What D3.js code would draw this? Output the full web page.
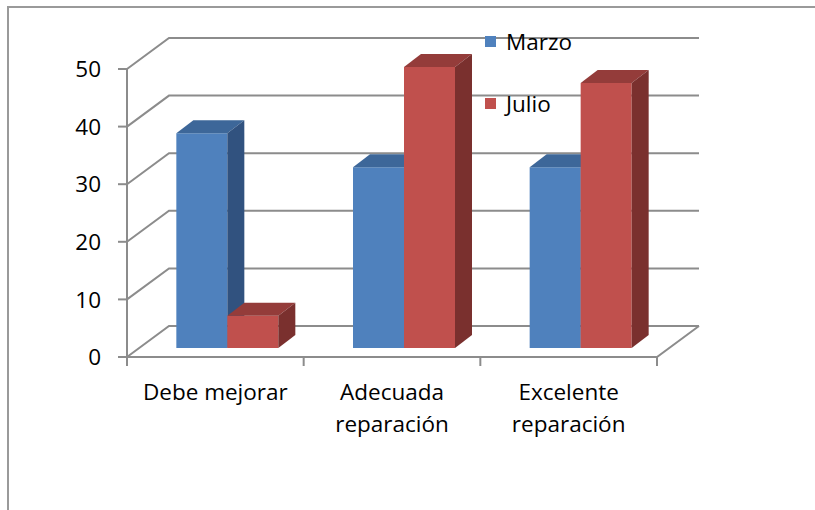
<!DOCTYPE html>
<meta charset="utf-8">
<script src="https://d3js.org/d3.v7.min.js"></script>
<style>
body {
  margin: 0;
  font-family: "Open Sans", Lato, sans-serif;
}
.grid line, .grid path {
  stroke: #8c8c8c;
  stroke-width: 2;
  fill: none;
}
text {
  font-size: 22.5px;
  fill: #000;
}
</style>
<body>
<script type="text/javascript">

// data
var categories = [["Debe mejorar"], ["Adecuada", "reparación"], ["Excelente", "reparación"]];
var catKeys = ["Debe mejorar", "Adecuada reparación", "Excelente reparación"];
var series = ["Marzo", "Julio"];
var marzo = [37.3, 31.4, 31.4];
var julio = [5.6, 48.8, 46];
var yTicks = [0, 10, 20, 30, 40, 50];

var colors = {
  Marzo: {front: "#4f81bd", top: "#3d6799", side: "#31527f"},
  Julio: {front: "#c0504d", top: "#943c3a", side: "#7a302e"}
};

var width = 815, height = 510;

// front plane of the 3d box
var x0 = 127, x1 = 657, yZero = 357, yTop = 69;
// depth of the box (back wall offset)
var depth = {dx: 42, dy: -31};
// bars sit a little inside the box
var barShift = {dx: 12, dy: -9};
var barDepth = {dx: 17, dy: -13};
var barWidth = 51;

var x = d3.scaleBand().domain(catKeys).range([x0, x1]);
var xs = d3.scaleBand().domain(series)
    .range([(x.bandwidth() - 2 * barWidth) / 2, (x.bandwidth() + 2 * barWidth) / 2]);
var y = d3.scaleLinear().domain([0, 50]).range([yZero, yTop]);

var svg = d3.select("body").append("svg")
    .attr("width", width)
    .attr("height", height);

// outer frame (only top and left edges are in view)
svg.append("rect")
    .attr("x", 8).attr("y", 7)
    .attr("width", 900).attr("height", 600)
    .attr("fill", "#fff")
    .attr("stroke", "#9a9a9a")
    .attr("stroke-width", 2);

var grid = svg.append("g").attr("class", "grid");

// back wall gridlines with the diagonal on the left wall
grid.selectAll(".gl")
    .data(yTicks)
    .enter().append("path")
    .attr("class", "gl")
    .attr("d", function(d) {
      return "M" + x0 + "," + y(d) +
        "L" + (x0 + depth.dx) + "," + (y(d) + depth.dy) +
        "L" + (x1 + depth.dx) + "," + (y(d) + depth.dy);
    });

// floor: front edge and right diagonal
grid.append("path")
    .attr("d", "M" + x0 + "," + yZero + "L" + x1 + "," + yZero +
      "L" + (x1 + depth.dx) + "," + (yZero + depth.dy));

// value axis
grid.append("line")
    .attr("x1", x0).attr("x2", x0)
    .attr("y1", y(50)).attr("y2", yZero);

grid.selectAll(".yt")
    .data(yTicks)
    .enter().append("line")
    .attr("x1", x0 - 9).attr("x2", x0)
    .attr("y1", function(d) { return y(d); })
    .attr("y2", function(d) { return y(d); });

// category ticks
var xEdges = catKeys.map(function(c) { return x(c); }).concat([x1]);
grid.selectAll(".xt")
    .data(xEdges)
    .enter().append("line")
    .attr("x1", function(d) { return d; })
    .attr("x2", function(d) { return d; })
    .attr("y1", yZero).attr("y2", yZero + 9);

svg.selectAll(".ylab")
    .data(yTicks)
    .enter().append("text")
    .attr("x", 101)
    .attr("y", function(d) { return y(d); })
    .attr("dy", "0.36em")
    .attr("text-anchor", "end")
    .text(function(d) { return d; });

// bars
var bars = [];
catKeys.forEach(function(c, i) {
  bars.push({cat: c, s: "Marzo", v: marzo[i]});
  bars.push({cat: c, s: "Julio", v: julio[i]});
});

function barPaths(d) {
  var left = x(d.cat) + xs(d.s) + barShift.dx;
  var right = left + barWidth;
  var base = yZero + barShift.dy;
  var top = base - (yZero - y(d.v));
  var bx = barDepth.dx, by = barDepth.dy;
  return {
    front: [[left, top], [right, top], [right, base], [left, base]],
    top: [[left, top], [left + bx, top + by], [right + bx, top + by], [right, top]],
    side: [[right, top], [right + bx, top + by], [right + bx, base + by], [right, base]]
  };
}

var poly = function(pts) { return "M" + pts.join("L") + "Z"; };

var bar = svg.selectAll(".bar")
    .data(bars)
    .enter().append("g")
    .attr("class", "bar");

["front", "top", "side"].forEach(function(face) {
  bar.append("path")
      .attr("d", function(d) { return poly(barPaths(d)[face]); })
      .attr("fill", function(d) { return colors[d.s][face]; });
});

// category labels
var lab = svg.selectAll(".xlab")
    .data(categories)
    .enter().append("text")
    .attr("text-anchor", "middle")
    .attr("x", function(d, i) { return x(catKeys[i]) + x.bandwidth() / 2; })
    .attr("y", 400);
lab.selectAll("tspan")
    .data(function(d) { return d; })
    .enter().append("tspan")
    .attr("x", function() { return d3.select(this.parentNode).attr("x"); })
    .attr("dy", function(d, i) { return i ? 32 : 0; })
    .text(function(d) { return d; });

// legend
var legend = svg.selectAll(".legend")
    .data(series)
    .enter().append("g")
    .attr("class", "legend")
    .attr("transform", function(d, i) { return "translate(485," + (36 + i * 62) + ")"; });
legend.append("rect")
    .attr("width", 11).attr("height", 11)
    .attr("fill", function(d) { return colors[d].front; });
legend.append("text")
    .attr("x", 21)
    .attr("y", 6)
    .attr("dy", "0.36em")
    .text(function(d) { return d; });

</script>
</body>
